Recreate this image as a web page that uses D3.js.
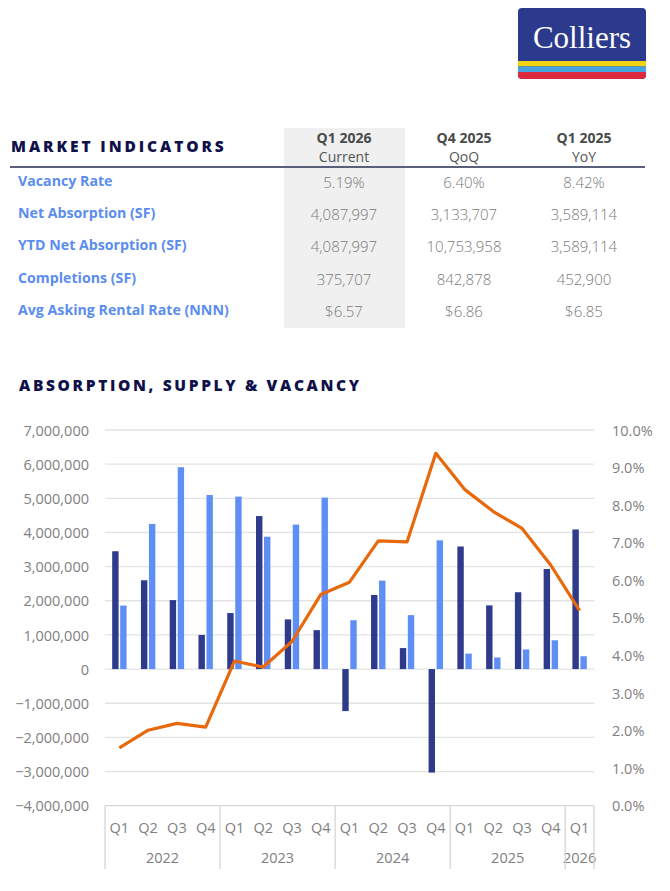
<!DOCTYPE html>
<html><head><meta charset="utf-8">
<script src="https://cdn.jsdelivr.net/npm/d3@7"></script>
<style>
html,body{margin:0;padding:0;background:#fff;}
svg{display:block;font-family:"Open Sans",sans-serif;}
</style></head>
<body>
<svg id="c" width="670" height="891"></svg>
<script>
// ---------- DATA ----------
const indicatorLabels = ["Vacancy Rate","Net Absorption (SF)","YTD Net Absorption (SF)","Completions (SF)","Avg Asking Rental Rate (NNN)"];
const colHeaders = ["Q1 2026","Q4 2025","Q1 2025"];
const colSubs = ["Current","QoQ","YoY"];
const currentVals = ["5.19%","4,087,997","4,087,997","375,707","$6.57"];
const qoqVals = ["6.40%","3,133,707","10,753,958","842,878","$6.86"];
const yoyVals = ["8.42%","3,589,114","3,589,114","452,900","$6.85"];

const quarters = ["Q1","Q2","Q3","Q4","Q1","Q2","Q3","Q4","Q1","Q2","Q3","Q4","Q1","Q2","Q3","Q4","Q1"];
const years = ["2022","2022","2022","2022","2023","2023","2023","2023","2024","2024","2024","2024","2025","2025","2025","2025","2026"];
const netAbsorption = [3450000,2600000,2020000,1000000,1640000,4480000,1455000,1140000,-1230000,2170000,615000,-3030000,3589114,1865000,2250000,2930000,4087997];
const completions = [1860000,4250000,5910000,5095000,5050000,3875000,4230000,5020000,1430000,2590000,1580000,3770000,452900,340000,575000,842878,375707];
const vacancy = [1.54,2.01,2.19,2.09,3.85,3.69,4.37,5.62,5.95,7.05,7.02,9.38,8.42,7.83,7.38,6.40,5.19];
const leftTicks = [7000000,6000000,5000000,4000000,3000000,2000000,1000000,0,-1000000,-2000000,-3000000,-4000000];
const rightTicks = [10,9,8,7,6,5,4,3,2,1,0];

// ---------- SETUP ----------
const svg = d3.select("#c");
const navy = "#10104a", labelBlue = "#5b8def", valGray = "#7a7a7a", axisGray = "#808080";
const darkBar = "#2e3a8c", lightBar = "#5f8ff5", orange = "#e8680c";

// ---------- LOGO ----------
const logo = svg.append("g");
const lx = 518, ly = 8, lw = 128, lh = 71;
logo.append("clipPath").attr("id","lc").append("rect").attr("x",lx).attr("y",ly).attr("width",lw).attr("height",lh).attr("rx",4);
const lg = logo.append("g").attr("clip-path","url(#lc)");
lg.append("rect").attr("x",lx).attr("y",ly).attr("width",lw).attr("height",lh).attr("fill","#2c3a8e");
lg.append("rect").attr("x",lx).attr("y",61).attr("width",lw).attr("height",5.5).attr("fill","#f2d30f");
lg.append("rect").attr("x",lx).attr("y",66.5).attr("width",lw).attr("height",5.5).attr("fill","#45a3e0");
lg.append("rect").attr("x",lx).attr("y",72).attr("width",lw).attr("height",7).attr("fill","#dc2b3f");
logo.append("text").attr("x",lx+lw/2).attr("y",48).attr("text-anchor","middle")
  .attr("font-family","'Liberation Serif','DejaVu Serif',serif").attr("font-size",31).attr("fill","#fff").text("Colliers");

// ---------- TABLE ----------
const colX = [344,464,584];
svg.append("rect").attr("x",284).attr("y",128).attr("width",121).attr("height",200).attr("fill","#f0f0f0");
svg.append("text").attr("x",11).attr("y",152).attr("font-size",15.5).attr("font-weight",800)
  .attr("letter-spacing",2.9).attr("fill",navy).text("MARKET INDICATORS");
colHeaders.forEach((h,i)=>{
  svg.append("text").attr("x",colX[i]).attr("y",143).attr("text-anchor","middle").attr("font-size",14)
    .attr("font-weight",700).attr("fill","#4a4a4a").text(h);
  svg.append("text").attr("x",colX[i]).attr("y",162).attr("text-anchor","middle").attr("font-size",14)
    .attr("fill","#555").text(colSubs[i]);
});
svg.append("line").attr("x1",10).attr("x2",645).attr("y1",167).attr("y2",167).attr("stroke","#5a5f7c").attr("stroke-width",2);
const rowY = [186,218,250,283,315];
indicatorLabels.forEach((l,i)=>{
  svg.append("text").attr("x",18).attr("y",rowY[i]).attr("font-size",14.2).attr("font-weight",700).attr("fill",labelBlue).text(l);
  [currentVals,qoqVals,yoyVals].forEach((arr,j)=>{
    svg.append("text").attr("x",colX[j]).attr("y",rowY[i]+2).attr("text-anchor","middle").attr("font-size",15)
      .attr("font-weight",300).attr("fill",valGray).text(arr[i]);
  });
});

// ---------- CHART ----------
svg.append("text").attr("x",19).attr("y",391).attr("font-size",15.5).attr("font-weight",800)
  .attr("letter-spacing",2.65).attr("fill",navy).text("ABSORPTION, SUPPLY & VACANCY");

const plotL = 105, plotR = 594, plotT = 430, plotB = 805.7;
const idx = d3.range(quarters.length);
const x = d3.scaleBand().domain(idx).range([plotL,plotR]).padding(0);
const yL = d3.scaleLinear().domain([-4000000,7000000]).range([plotB,plotT]);
const yR = d3.scaleLinear().domain([0,10]).range([plotB,plotT]);
const inner = d3.scaleBand().domain(["net","comp"]).range([0,14.4]).paddingInner(0.2);
const off = (x.bandwidth()-14.4)/2;

// gridlines
svg.append("g").selectAll("line").data(leftTicks).join("line")
  .attr("x1",plotL).attr("x2",plotR).attr("y1",d=>yL(d)).attr("y2",d=>yL(d))
  .attr("stroke",d=>d===-4000000?"#d6d6d6":"#e3e3e3").attr("stroke-width",1.3);

// left axis
const axL = svg.append("g").attr("transform",`translate(${plotL-13},0)`)
  .call(d3.axisLeft(yL).tickValues(leftTicks).tickSize(0).tickFormat(d3.format(",")));
axL.select(".domain").remove();
axL.selectAll("text").attr("font-family","'Open Sans',sans-serif").attr("font-size",14.5).attr("fill",axisGray).attr("dy","0.35em");

// right axis
const axR = svg.append("g").attr("transform",`translate(${plotR+15},0)`)
  .call(d3.axisRight(yR).tickValues(rightTicks).tickSize(0).tickFormat(d=>d3.format(".1f")(d)+"%"));
axR.select(".domain").remove();
axR.selectAll("text").attr("font-family","'Open Sans',sans-serif").attr("font-size",14.5).attr("fill",axisGray).attr("dy","0.35em");

// bars
svg.append("g").selectAll("rect").data(idx).join("rect")
  .attr("x",i=>x(i)+off+inner("net")).attr("width",inner.bandwidth())
  .attr("y",i=>yL(Math.max(0,netAbsorption[i]))).attr("height",i=>Math.abs(yL(netAbsorption[i])-yL(0)))
  .attr("fill",darkBar);
svg.append("g").selectAll("rect").data(idx).join("rect")
  .attr("x",i=>x(i)+off+inner("comp")).attr("width",inner.bandwidth())
  .attr("y",i=>yL(Math.max(0,completions[i]))).attr("height",i=>Math.abs(yL(completions[i])-yL(0)))
  .attr("fill",lightBar);

// vacancy line
const line = d3.line().x(i=>x(i)+x.bandwidth()/2).y(i=>yR(vacancy[i]));
svg.append("path").datum(idx).attr("d",line).attr("fill","none").attr("stroke",orange)
  .attr("stroke-width",3.2).attr("stroke-linejoin","round");

// category axis
const xa = svg.append("g");
xa.selectAll("text.q").data(idx).join("text").attr("class","q")
  .attr("x",i=>x(i)+x.bandwidth()/2).attr("y",833).attr("text-anchor","middle")
  .attr("font-size",14.5).attr("fill",axisGray).text(i=>quarters[i]);
const yearGroups = d3.groups(idx, i=>years[i]);
yearGroups.forEach(([yr,arr])=>{
  const a = x(arr[0]), b = x(arr[arr.length-1])+x.bandwidth();
  xa.append("text").attr("x",(a+b)/2).attr("y",863).attr("text-anchor","middle")
    .attr("font-size",14.5).attr("fill",axisGray).text(yr);
});
const seps = [0].concat(yearGroups.map(([yr,arr])=>arr[arr.length-1]+1));
xa.selectAll("line").data(seps).join("line")
  .attr("x1",i=>i<quarters.length?x(i):plotR).attr("x2",i=>i<quarters.length?x(i):plotR)
  .attr("y1",plotB).attr("y2",869).attr("stroke","#d6d6d6").attr("stroke-width",1.3);
</script>
</body></html>
